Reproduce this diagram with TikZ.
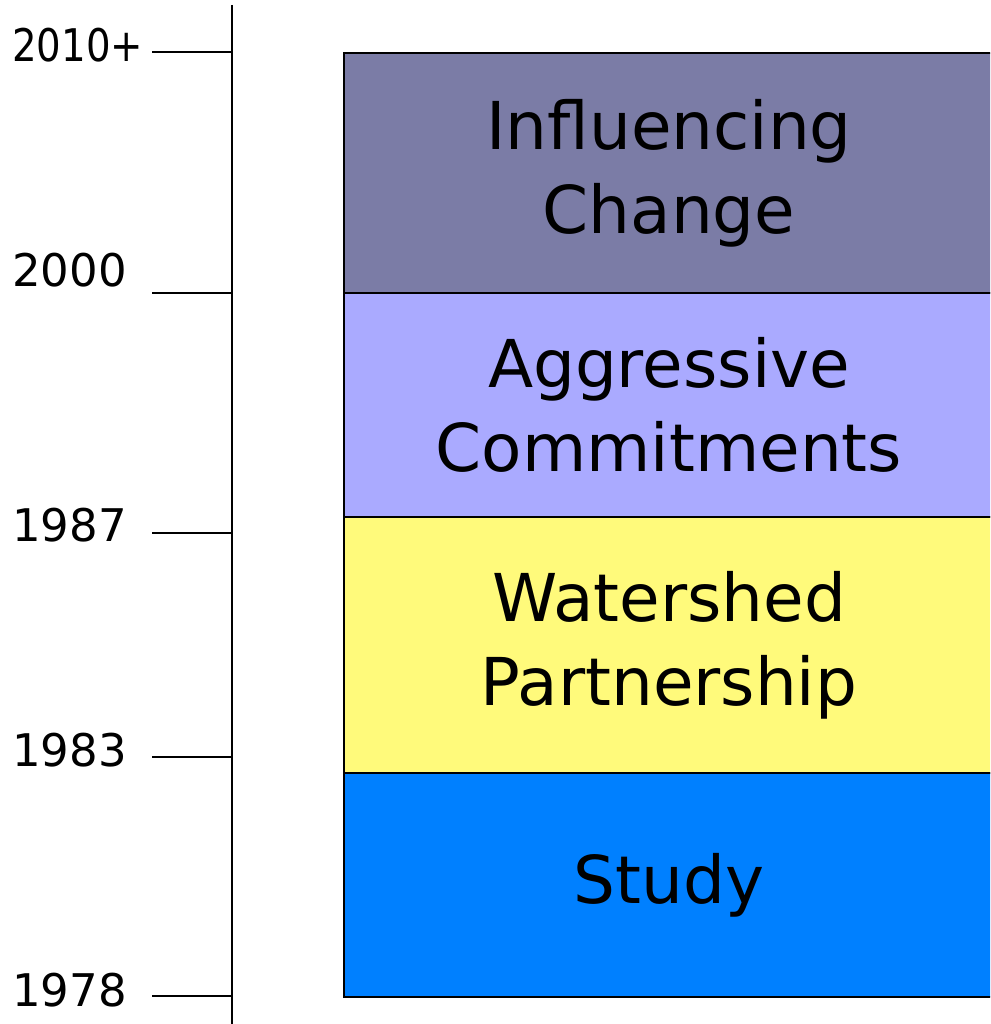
\documentclass[tikz,border=0pt]{standalone}
\usepackage{fontspec}
\setmainfont{DejaVu Sans}
\definecolor{influence}{HTML}{7B7CA6}
\definecolor{aggressive}{HTML}{AAAAFF}
\definecolor{watershed}{HTML}{FFFA7B}
\definecolor{study}{HTML}{0080FF}
\begin{document}
\begin{tikzpicture}[x=1pt,y=-1pt,
  era/.style={draw=black,line width=2pt,rectangle,anchor=north west,
    inner sep=0pt,outer sep=0pt,minimum width=650pt,align=center,
    font=\fontsize{66}{84}\selectfont},
  yearlabel/.style={anchor=west,inner sep=0pt,font=\fontsize{45}{50}\selectfont},
  rule/.style={line width=1.6pt}]
  \useasboundingbox (0,0) rectangle (990,1024);
  \clip (0,0) rectangle (990,1024);
  % stacked eras
  \node[era,fill=influence,minimum height=240pt] (infl) at (344,53) {Influencing\\Change};
  \node[era,fill=aggressive,minimum height=224pt] (aggr) at (344,293) {Aggressive\\Commitments};
  \node[era,fill=watershed,minimum height=256pt] (wats) at (344,517) {Watershed\\Partnership};
  \node[era,fill=study,minimum height=224pt] (stdy) at (344,773) {Study};
  % time axis
  \coordinate (axtop) at (232,5);
  \coordinate (axbot) at (232,1024);
  \draw[rule] (axtop) -- (axbot);
  % year ticks and labels
  \foreach \name/\yr/\ty/\ly in {a/\scalebox{0.86}[1]{2010+}/52/45, b/2000/293/270, c/1987/533/525, d/1983/757/750, e/1978/996/990}{
    \node[yearlabel] (lab\name) at (12,\ly) {\yr};
    \coordinate (tk\name) at (152,\ty);
    \coordinate (ax\name) at (232,\ty);
    \draw[rule] (tk\name) -- (ax\name);
  }
\end{tikzpicture}
\end{document}
